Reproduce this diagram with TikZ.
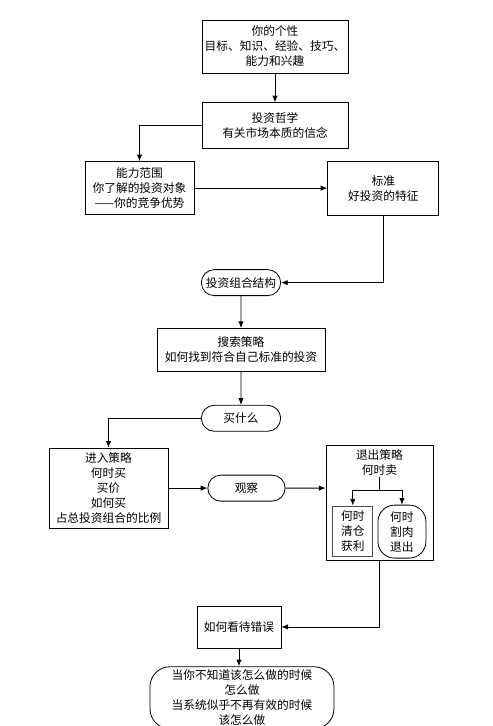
\documentclass[tikz,border=0pt]{standalone}
\usepackage{fontspec}
\newfontfamily\cjk{Noto Sans CJK SC}
\usetikzlibrary{arrows.meta, positioning, shapes.misc}

\begin{document}
\begin{tikzpicture}[
  font=\cjk\fontsize{10pt}{12.8pt}\selectfont,
  line width=0.7pt,
  box/.style ={draw, align=center, inner sep=2pt},
  pill/.style={draw, rounded rectangle, align=center, minimum width=2.52cm, minimum height=0.78cm, inner sep=2pt},
  arr/.style ={-{Latex[length=2mm, width=1.6mm]}},
]
  \useasboundingbox (0,0) rectangle (14.79,-21.78);

  \node[box, minimum width=4.38cm, minimum height=1.59cm] (pers) at (8.25,-1.395) {你的个性\\目标、知识、经验、技巧、\\能力和兴趣};
  \node[box, minimum width=4.38cm, minimum height=1.38cm, below=0.87cm of pers] (phil) {投资哲学\\有关市场本质的信念};
  \node[box, minimum width=3.27cm, minimum height=1.59cm, below=0.36cm of phil, xshift=-4.065cm] (abil) {能力范围\\你了解的投资对象\\——你的竞争优势};
  \node[box, minimum width=3.33cm, minimum height=1.62cm, right=3.99cm of abil] (std) {标准\\好投资的特征};
  \node[pill, below=3.6cm of phil, xshift=-1.02cm] (port) {投资组合结构};
  \node[box, minimum width=5.04cm, minimum height=1.29cm, below=0.96cm of port] (srch) {搜索策略\\如何找到符合自己标准的投资};
  \node[pill, below=0.99cm of srch] (buy) {买什么};
  \node[box, minimum width=3.57cm, minimum height=2.4cm, below=0.48cm of buy, xshift=-3.975cm] (entry) {进入策略\\何时买\\买价\\如何买\\占总投资组合的比例};
  \node[pill, minimum width=2.46cm, right=1.17cm of entry] (obs) {观察};
  \node[box, minimum width=3.21cm, minimum height=3.45cm, right=1.2cm of obs, yshift=-0.435cm] (exit) {};
  \node[below=0.1cm of exit.north, inner sep=1pt, align=center] (exitt) {退出策略\\何时卖};
  \node[box, thick, draw=black!70, minimum width=1.2cm, minimum height=1.5cm, inner sep=1pt, above=0.12cm of exit.south, xshift=-0.8cm] (clear) {何时\\清仓\\获利};
  \node[box, rounded corners=0.5cm, minimum width=1.44cm, minimum height=1.59cm, inner sep=1pt, above=0.06cm of exit.south, xshift=0.675cm] (cut) {何时\\割肉\\退出};
  \coordinate[below=0.4cm of exitt] (split);
  \node[box, minimum width=2.52cm, minimum height=1.26cm, below=1.35cm of exit.south, xshift=-4.215cm] (err) {如何看待错误};
  \node[box, rounded corners=0.6cm, minimum width=5.52cm, minimum height=1.86cm, inner sep=1pt, below=0.54cm of err, xshift=0.09cm] (fin) {当你不知道该怎么做的时候\\怎么做\\当系统似乎不再有效的时候\\该怎么做};

  \draw[arr] (pers)  -- (phil);
  \draw[arr] (phil)  -| (abil);
  \draw[arr] (abil)  -- (std);
  \draw[arr] (std)   |- (port);
  \draw[arr] (port)  -- (srch);
  \draw[arr] (srch)  -- (buy);
  \draw[arr] (buy)   -| (entry);
  \draw[arr] (entry) -- (obs);
  \draw[arr] (obs)   -- (obs -| exit.west);
  \draw      (exitt) -- (split);
  \draw[arr] (split) -| (clear);
  \draw[arr] (split) -| (cut);
  \draw[arr] (exit)  |- (err);
  \draw[arr] (err)   -- (err |- fin.north);
\end{tikzpicture}
\end{document}
